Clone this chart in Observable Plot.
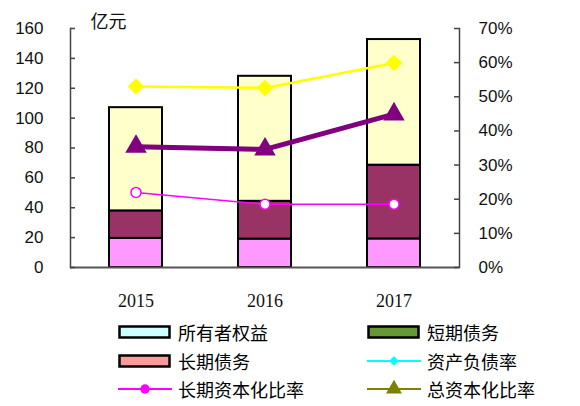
<!DOCTYPE html>
<html><head><meta charset="utf-8">
<script src="https://cdn.jsdelivr.net/npm/d3@7"></script>
<script src="https://cdn.jsdelivr.net/npm/@observablehq/plot@0.6"></script>
<style>
body{margin:0;background:#fff;}
#wrap{position:relative;width:580px;height:406px;overflow:hidden;background:#fff;}
#wrap svg.plot{position:absolute;left:0;top:0;}
.lg{position:absolute;font-family:"Noto Sans CJK SC";font-size:18px;line-height:20px;display:flex;align-items:center;color:#000;white-space:nowrap;}
.lg svg{margin-right:6px;display:block;}
</style></head><body><div id="wrap"></div>
<script>
// ---- data ----
const years = ["2015", "2016", "2017"];
const equity = [69.1, 83.7, 84.1];          // 所有者权益 (亿元)
const shortDebt = [18.4, 25.3, 49.4];       // 短期债务
const longDebt = [19.5, 19.0, 19.1];        // 长期债务
const debtRatio = [53.0, 52.6, 59.9];       // 资产负债率 %
const longCapRatio = [22.0, 18.5, 18.5];    // 长期资本化比率 %
const totalCapRatio = [35.4, 34.6, 44.9];   // 总资本化比率 %
const leftTicks = [0, 20, 40, 60, 80, 100, 120, 140, 160];
const rightTicks = [0, 10, 20, 30, 40, 50, 60, 70];
const seriesNames = ["所有者权益", "短期债务", "长期债务"];
const unitLabel = "亿元";

// ---- styling ----
const barColors = ["#FFFFCC", "#993366", "#FF99FF"];
const legendItems = [
  {name: "所有者权益", kind: "bar", color: "#CCFFFF"},
  {name: "短期债务", kind: "bar", color: "#669933"},
  {name: "长期债务", kind: "bar", color: "#FF9999"},
  {name: "资产负债率", kind: "line", color: "#00FFFF", symbol: "diamond"},
  {name: "长期资本化比率", kind: "line", color: "#FF00FF", symbol: "circle"},
  {name: "总资本化比率", kind: "line", color: "#808000", symbol: "triangle"}
];

const yMax = 160, pMax = 70;
const toY = p => p * yMax / pMax;

const barData = [];
years.forEach((y, i) => {
  barData.push({year: y, series: "长期债务", value: longDebt[i]});
  barData.push({year: y, series: "短期债务", value: shortDebt[i]});
  barData.push({year: y, series: "所有者权益", value: equity[i]});
});
const ratioData = years.map((y, i) => ({
  year: y,
  debt: toY(debtRatio[i]),
  longCap: toY(longCapRatio[i]),
  totalCap: toY(totalCapRatio[i])
}));

const W = 580, H = 320, mL = 70, mR = 121, mT = 28, mB = 53;
const frameW = W - mL - mR;

const chart = Plot.plot({
  width: W, height: H,
  marginLeft: mL, marginRight: mR, marginTop: mT, marginBottom: mB,
  style: {fontFamily: "Liberation Sans", fontSize: "17px", background: "transparent", color: "#111"},
  x: {domain: years, paddingInner: 0.59, paddingOuter: 0.295, label: null},
  y: {domain: [0, yMax], label: null},
  color: {domain: seriesNames, range: barColors},
  marks: [
    Plot.barY(barData, Plot.stackY({order: ["长期债务", "短期债务", "所有者权益"]},
      {x: "year", y: "value", fill: "series", stroke: "#000", strokeWidth: 2})),
    Plot.line(ratioData, {x: "year", y: "longCap", stroke: "#FF00FF", strokeWidth: 1.5}),
    Plot.dot(ratioData, {x: "year", y: "longCap", r: 5, fill: "#fff", stroke: "#FF00FF", strokeWidth: 1.5}),
    Plot.line(ratioData, {x: "year", y: "debt", stroke: "#FFFF00", strokeWidth: 2.5}),
    Plot.dot(ratioData, {x: "year", y: "debt", symbol: "diamond2", r: 6.5, fill: "#FFFF00", stroke: "#FFFF00"}),
    Plot.line(ratioData, {x: "year", y: "totalCap", stroke: "#800080", strokeWidth: 5}),
    Plot.dot(ratioData, {x: "year", y: "totalCap", symbol: "triangle", r: 7, fill: "#800080", stroke: "#800080"}),
    Plot.ruleY([0], {stroke: "#555", strokeWidth: 2}),
    Plot.frame({anchor: "left", stroke: "#444", strokeWidth: 1.5}),
    Plot.frame({anchor: "right", stroke: "#444", strokeWidth: 1.5}),
    Plot.tickY(leftTicks, {y: d => d, insetRight: frameW - 5, stroke: "#444", strokeWidth: 1.5}),
    Plot.tickY(rightTicks, {y: d => toY(d), insetLeft: frameW - 5, stroke: "#444", strokeWidth: 1.5}),
    Plot.axisY(leftTicks, {anchor: "left", tickSize: 0, tickPadding: 27, fontSize: 17, label: null}),
    Plot.axisY(rightTicks.map(toY), {anchor: "right", tickSize: 0, tickPadding: 19, fontSize: 17, label: null,
      tickFormat: v => Math.round(v * pMax / yMax) + "%"}),
    Plot.axisX({tickSize: 0, tickPadding: 27, fontFamily: "Liberation Serif", fontSize: 18, label: null}),
    Plot.text([unitLabel], {frameAnchor: "top-left", text: d => d, dx: 20, dy: -6,
      textAnchor: "start", lineAnchor: "middle", fontSize: 18, fontFamily: "Noto Sans CJK SC"})
  ]
});
chart.classList.add("plot");
const wrap = document.getElementById("wrap");
wrap.appendChild(chart);

// ---- legend ----
const legendPos = [
  {left: 118, top: 332}, {left: 367, top: 332},
  {left: 118, top: 361}, {left: 367, top: 361},
  {left: 118, top: 389}, {left: 367, top: 389}
];
const order = [0, 1, 2, 3, 4, 5];
order.forEach((k, idx) => {
  const it = legendItems[k];
  const pos = legendPos[idx];
  const div = document.createElement("div");
  div.className = "lg";
  div.style.left = pos.left + "px";
  div.style.top = (pos.top - 10) + "px";
  const ns = "http://www.w3.org/2000/svg";
  const s = document.createElementNS(ns, "svg");
  s.setAttribute("width", 54); s.setAttribute("height", 20);
  if (it.kind === "bar") {
    const r = document.createElementNS(ns, "rect");
    r.setAttribute("x", 1.5); r.setAttribute("y", 4.5); r.setAttribute("width", 50); r.setAttribute("height", 11);
    r.setAttribute("fill", it.color); r.setAttribute("stroke", "#000"); r.setAttribute("stroke-width", 2.5);
    s.appendChild(r);
  } else {
    const l = document.createElementNS(ns, "line");
    l.setAttribute("x1", 0); l.setAttribute("x2", 54); l.setAttribute("y1", 10); l.setAttribute("y2", 10);
    l.setAttribute("stroke", it.color); l.setAttribute("stroke-width", 2);
    s.appendChild(l);
    const p = document.createElementNS(ns, "path");
    const sym = it.symbol === "diamond" ? d3.symbolDiamond2 : it.symbol === "circle" ? d3.symbolCircle : d3.symbolTriangle;
    const size = it.symbol === "triangle" ? 110 : it.symbol === "circle" ? 70 : 60;
    p.setAttribute("d", d3.symbol(sym, size)());
    p.setAttribute("transform", "translate(27,10)");
    p.setAttribute("fill", it.color);
    s.appendChild(p);
  }
  div.appendChild(s);
  const t = document.createElement("span");
  t.textContent = it.name;
  div.appendChild(t);
  wrap.appendChild(div);
});
</script></body></html>
